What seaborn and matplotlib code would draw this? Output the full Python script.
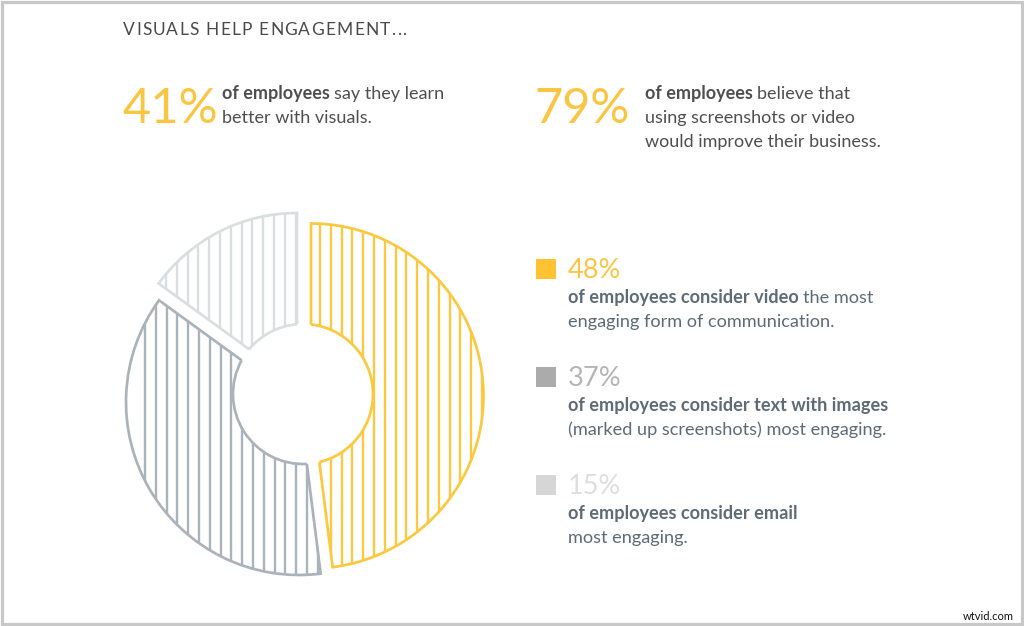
import numpy as np
import matplotlib
matplotlib.use('Agg')
import matplotlib.pyplot as plt
from matplotlib.patches import Arc, Circle, Rectangle
import seaborn as sns

# chart data
slice_names = ['video', 'text with images', 'email']
slice_values = [48, 37, 15]
legend_labels = ['48%', '37%', '15%']
legend_lines = [
    [[('of employees consider video', True), (' the most', False)],
     [('engaging form of communication.', False)]],
    [[('of employees consider text with images', True)],
     [('(marked up screenshots) most engaging.', False)]],
    [[('of employees consider email', True)],
     [('most engaging.', False)]],
]
headline = 'VISUALS HELP ENGAGEMENT...'
stat_labels = ['41%', '79%']
stat_lines = [
    [[('of employees', True), (' say they learn', False)],
     [('better with visuals.', False)]],
    [[('of employees', True), (' believe that', False)],
     [('using screenshots or video', False)],
     [('would improve their business.', False)]],
]

# styling
slice_colors = ['#FBC840', '#ABB3BA', '#DADEE0']
legend_colors = ['#FFC233', '#ABABAB', '#D6D6D6']
label_colors = ['#FBC544', '#B4B4B4', '#DEDEDE']
slice_shift = [(8, 2), (-4, 8), (-6, -10)]
slice_radius = [172.5, 173, 171]
hatch_start = [320, 145, 166]
hatch_step = 10.8
hole_center = (303, 626 - 394)
hole_radius = 70
DPI = 130

sns.set_theme(style='white')
plt.rcParams['font.family'] = ['Lato', 'DejaVu Sans']

fig = plt.figure(figsize=(1024 / DPI, 626 / DPI), dpi=DPI)
ax = fig.add_axes([0, 0, 1, 1])

wedges, _ = ax.pie(slice_values, startangle=90, counterclock=False,
                   radius=172, center=hole_center, colors=slice_colors,
                   wedgeprops=dict(fill=False, linewidth=1.5))
ax.set_xlim(0, 1024)
ax.set_ylim(0, 626)
ax.set_aspect('equal')
ax.axis('off')


def edge_angle(center, theta):
    # where a wedge side meets the hole circle
    d = np.array([np.cos(np.radians(theta)), np.sin(np.radians(theta))])
    off = np.array(center) - np.array(hole_center)
    b = off @ d
    t = -b + np.sqrt(b * b - off @ off + hole_radius ** 2)
    p = off + t * d
    return np.degrees(np.arctan2(p[1], p[0]))


for i, w in enumerate(wedges):
    cx = hole_center[0] + slice_shift[i][0]
    cy = hole_center[1] - slice_shift[i][1]
    w.set_center((cx, cy))
    w.set_radius(slice_radius[i])
    w.set_edgecolor(slice_colors[i])
    w.set_zorder(2)

    xs = np.arange(hatch_start[i], 490, hatch_step)
    lines = ax.vlines(xs, 20, 440, color=slice_colors[i], linewidth=1.3, zorder=1)
    lines.set_clip_path(w)

    a1 = edge_angle((cx, cy), w.theta1)
    a2 = edge_angle((cx, cy), w.theta2)
    if a2 < a1:
        a2 += 360
    ax.add_patch(Arc(hole_center, 2 * hole_radius, 2 * hole_radius, theta1=a1, theta2=a2,
                     edgecolor=slice_colors[i], linewidth=1.5, zorder=4))

ax.add_patch(Circle(hole_center, hole_radius, facecolor='white', edgecolor='none', zorder=3))

renderer = fig.canvas.get_renderer()


def text_width(s, size):
    t = ax.text(0, 0, s + '|', fontsize=size)
    bar = ax.text(0, 0, '|', fontsize=size)
    w = t.get_window_extent(renderer).width - bar.get_window_extent(renderer).width
    t.remove()
    bar.remove()
    return w


def put_line(x, y, runs, size, color):
    # bold and regular parts on one baseline
    for text, bold in runs:
        weight = 'bold' if bold else 'normal'
        t = ax.text(x, 626 - y, text.strip(), fontsize=size, color=color, va='baseline', ha='left',
                    fontweight=weight, zorder=5)
        x += t.get_window_extent(renderer).width + 4.5


# headline with tracking
for k, ch in enumerate(headline):
    hx = 123 + text_width(headline[:k], 9.6) + k * 1.2
    ax.text(hx, 626 - 35, ch, fontsize=9.6, color='#4a4a4a', va='baseline')

# top statistics
for label, x, tx, lines in zip(stat_labels, [122, 534], [222, 645], stat_lines):
    ax.text(x, 626 - 123, label, fontsize=27, color='#FBC544', va='baseline')
    for j, runs in enumerate(lines):
        put_line(tx, 99 + j * 24, runs, 10, '#4f4f4f')

# legend
legend_base = [278, 386, 494]
for i in range(3):
    y = legend_base[i]
    ax.add_patch(Rectangle((536, 626 - y - 0.5), 20, 20, facecolor=legend_colors[i],
                           edgecolor='none', zorder=5))
    ax.text(568, 626 - y, legend_labels[i], fontsize=15, color=label_colors[i], va='baseline')
    for j, runs in enumerate(legend_lines[i]):
        put_line(568, y + 25 + j * 24, runs, 10.05, '#5d6b75')

# frame
ax.add_patch(Rectangle((1.5, 2.5), 1020, 622, fill=False, edgecolor='#c8c8c8', linewidth=1.8, zorder=6))
ax.text(963, 626 - 620, 'wtvid.com', fontsize=6.2, color='#111111', va='baseline', zorder=7)

fig.savefig('out.png', dpi=DPI, facecolor='white')
